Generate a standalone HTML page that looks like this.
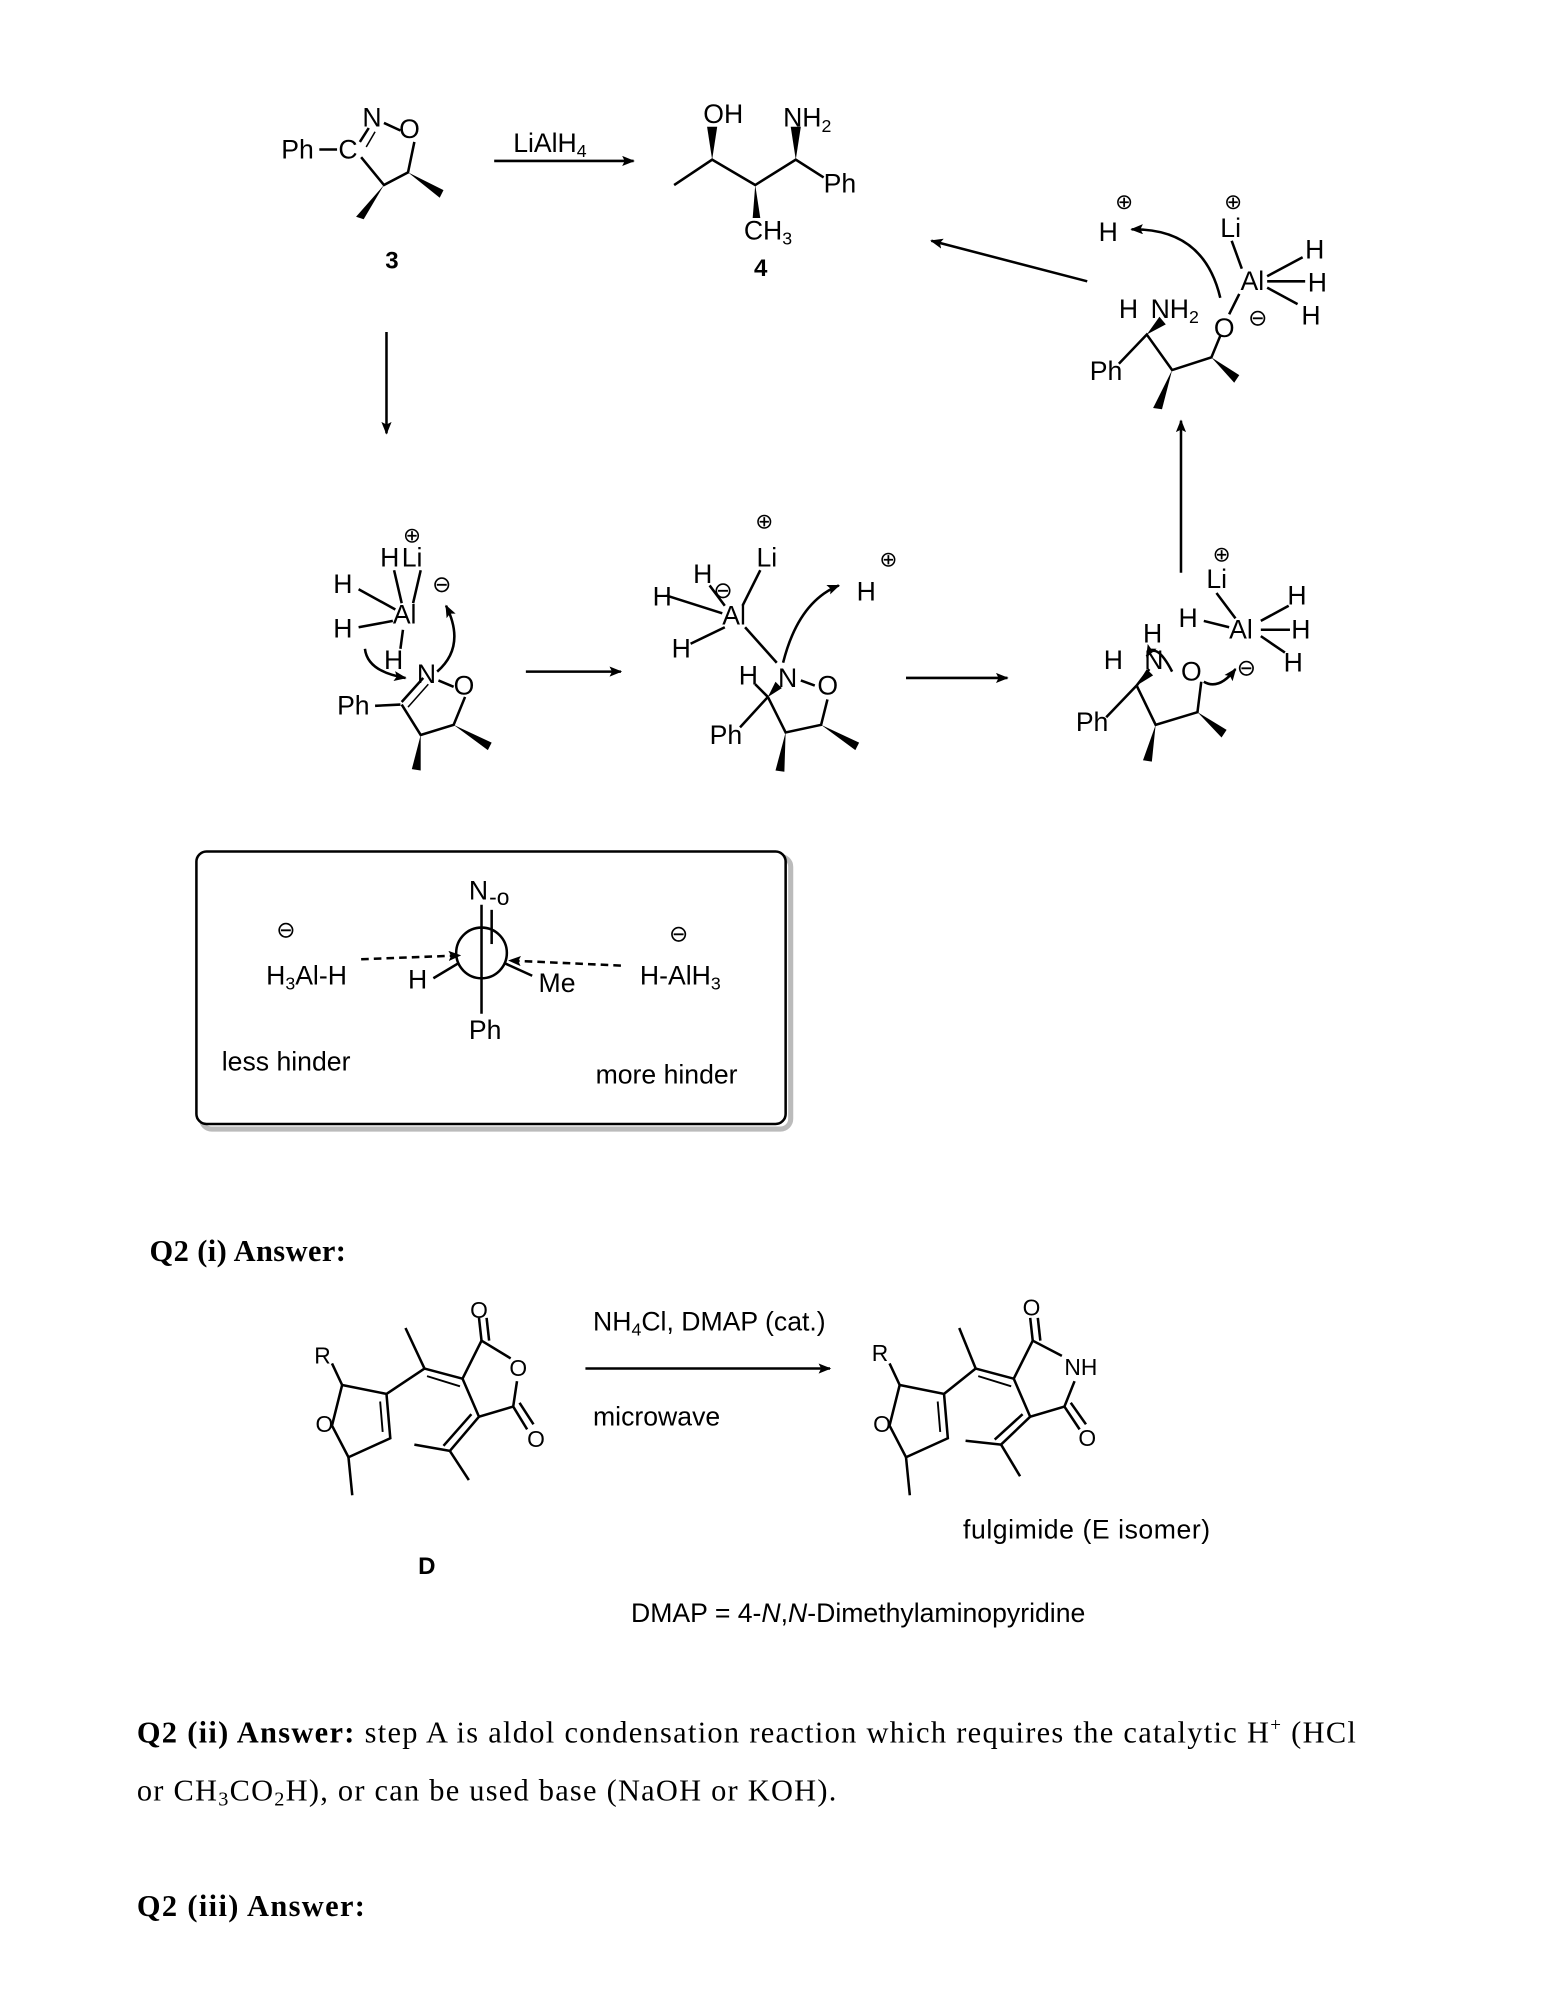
<!DOCTYPE html>
<html><head><meta charset="utf-8"><style>
html,body{margin:0;padding:0;background:#fff;}
svg{display:block;}
text{font-family:"Liberation Sans",Arial,sans-serif;fill:#000;}
.t{font-family:"Liberation Serif","Times New Roman",serif;font-size:24px;}
</style></head><body>
<svg width="1551" height="1992" viewBox="0 0 1224 1572" xmlns="http://www.w3.org/2000/svg">
<defs>
<marker id="ah" markerWidth="10" markerHeight="8" refX="9" refY="4" orient="auto-start-reverse" markerUnits="userSpaceOnUse"><path d="M0,0 L10,4 L0,8 L2,4 z" fill="#000"/></marker>
</defs>
<g stroke="#000" stroke-width="2" fill="none">
<!-- compound 3 -->
<line x1="252" y1="118" x2="266" y2="118"/>
<line x1="284" y1="112" x2="291" y2="101"/>
<line x1="289" y1="116" x2="296" y2="104" stroke-width="1.2"/>
<line x1="303" y1="97" x2="316" y2="103"/>
<polyline points="285,124 303,146 322,136 327,112"/>
<line x1="390" y1="127" x2="500" y2="127" marker-end="url(#ah)"/>
<!-- product 4 -->
<polyline points="532,146 562,126 596,146 628,126 650,140"/>
<line x1="858" y1="222" x2="735" y2="190" marker-end="url(#ah)"/>
<line x1="305" y1="262" x2="305" y2="342" marker-end="url(#ah)"/>
<line x1="932" y1="452" x2="932" y2="332" marker-end="url(#ah)"/>
<line x1="415" y1="530" x2="490" y2="530" marker-end="url(#ah)"/>
<line x1="715" y1="535" x2="795" y2="535" marker-end="url(#ah)"/>
<!-- top right complex -->
<line x1="972" y1="190" x2="980" y2="212"/>
<line x1="1000" y1="218" x2="1028" y2="203"/>
<line x1="1000" y1="222" x2="1030" y2="222"/>
<line x1="1000" y1="227" x2="1024" y2="240"/>
<line x1="978" y1="232" x2="970" y2="248"/>
<polyline points="883,287 905,264 925,292 956,282 963,265"/>
<path d="M963,235 Q950,180 893,181" marker-end="url(#ah)"/>
<!-- middle-left -->
<line x1="283" y1="465" x2="312" y2="481"/>
<line x1="311" y1="450" x2="317" y2="476"/>
<line x1="332" y1="450" x2="326" y2="476"/>
<line x1="283" y1="495" x2="310" y2="490"/>
<line x1="318" y1="497" x2="316" y2="512"/>
<line x1="296" y1="557" x2="316" y2="556"/>
<line x1="317" y1="554" x2="334" y2="535"/>
<line x1="322" y1="558" x2="338" y2="540" stroke-width="1.2"/>
<polyline points="317,556 332,580 358,572 367,550"/>
<line x1="346" y1="537" x2="358" y2="542"/>
<path d="M288,512 Q290,530 320,535" marker-end="url(#ah)"/>
<path d="M345,530 Q368,510 352,478" marker-end="url(#ah)"/>
<!-- middle -->
<line x1="600" y1="450" x2="586" y2="478"/>
<line x1="526" y1="470" x2="570" y2="484"/>
<line x1="560" y1="462" x2="572" y2="478"/>
<line x1="545" y1="508" x2="572" y2="495"/>
<line x1="588" y1="495" x2="613" y2="523"/>
<line x1="584" y1="574" x2="606" y2="550"/>
<line x1="596" y1="540" x2="606" y2="550"/>
<polyline points="606,550 620,578 648,572 653,552"/>
<line x1="632" y1="537" x2="643" y2="541"/>
<path d="M618,523 Q630,475 662,462" marker-end="url(#ah)"/>
<!-- right -->
<line x1="960" y1="468" x2="975" y2="488"/>
<line x1="950" y1="490" x2="970" y2="495"/>
<line x1="995" y1="490" x2="1017" y2="478"/>
<line x1="995" y1="497" x2="1018" y2="497"/>
<line x1="995" y1="502" x2="1014" y2="515"/>
<line x1="873" y1="566" x2="897" y2="541"/>
<polyline points="897,541 912,572 945,562 948,538"/>
<line x1="907" y1="528" x2="897" y2="541"/>
<path d="M925,530 Q912,505 905,518" marker-end="url(#ah)"/>
<path d="M950,538 Q962,545 975,528" marker-end="url(#ah)"/>
<!-- box -->
<rect x="159" y="676" width="465" height="215" rx="8" stroke="#bbb" stroke-width="4"/>
<rect x="155" y="672" width="465" height="215" rx="8" fill="#fff"/>
<circle cx="380" cy="752" r="20"/>
<line x1="380" y1="714" x2="380" y2="800"/>
<line x1="388" y1="718" x2="388" y2="745"/>
<line x1="342" y1="772" x2="362" y2="760"/>
<line x1="398" y1="760" x2="420" y2="770"/>
<line x1="285" y1="757" x2="363" y2="754" stroke-dasharray="6,4" marker-end="url(#ah)"/>
<line x1="490" y1="762" x2="402" y2="758" stroke-dasharray="6,4" marker-end="url(#ah)"/>
<!-- compound D -->
<line x1="262" y1="1076" x2="270" y2="1093"/>
<polygon points="270,1093 305,1100 308,1135 275,1150 262,1125"/>
<line x1="300" y1="1106" x2="302" y2="1130" stroke-width="1.5"/>
<line x1="275" y1="1150" x2="278" y2="1180"/>
<line x1="305" y1="1100" x2="335" y2="1080"/>
<line x1="335" y1="1080" x2="320" y2="1048"/>
<line x1="335" y1="1080" x2="365" y2="1088"/>
<line x1="337" y1="1086" x2="363" y2="1094" stroke-width="1.5"/>
<polyline points="365,1088 380,1058 403,1072"/>
<polyline points="365,1088 378,1118 405,1110 408,1090"/>
<line x1="380" y1="1058" x2="378" y2="1040"/><line x1="386" y1="1058" x2="384" y2="1040"/>
<line x1="405" y1="1110" x2="416" y2="1128"/><line x1="410" y1="1107" x2="421" y2="1124"/>
<line x1="378" y1="1118" x2="355" y2="1145"/><line x1="372" y1="1116" x2="350" y2="1141"/>
<line x1="355" y1="1145" x2="327" y2="1140"/><line x1="355" y1="1145" x2="370" y2="1168"/>
<line x1="462" y1="1080" x2="655" y2="1080" marker-end="url(#ah)"/>
<!-- product -->
<line x1="702" y1="1076" x2="710" y2="1093"/>
<polygon points="710,1093 745,1100 748,1135 715,1150 702,1125"/>
<line x1="740" y1="1106" x2="742" y2="1130" stroke-width="1.5"/>
<line x1="715" y1="1150" x2="718" y2="1180"/>
<line x1="745" y1="1100" x2="770" y2="1080"/>
<line x1="770" y1="1080" x2="757" y2="1048"/>
<line x1="770" y1="1080" x2="800" y2="1088"/>
<line x1="772" y1="1086" x2="798" y2="1094" stroke-width="1.5"/>
<polyline points="800,1088 815,1058 838,1070"/>
<polyline points="800,1088 813,1118 840,1110 848,1090"/>
<line x1="815" y1="1058" x2="813" y2="1040"/><line x1="821" y1="1058" x2="819" y2="1040"/>
<line x1="840" y1="1110" x2="852" y2="1128"/><line x1="845" y1="1107" x2="857" y2="1124"/>
<line x1="813" y1="1118" x2="790" y2="1140"/><line x1="807" y1="1116" x2="785" y2="1136"/>
<line x1="790" y1="1140" x2="762" y2="1137"/><line x1="790" y1="1140" x2="805" y2="1165"/>
</g>
<g fill="#000">
<polygon points="303,146 281,171 287,173"/>
<polygon points="322,136 350,150 347,156"/>
<polygon points="562,126 558,100 566,100"/>
<polygon points="628,126 624,100 632,100"/>
<polygon points="596,146 594,172 600,172"/>
<polygon points="905,264 915,250 920,256"/>
<polygon points="925,292 910,322 917,323"/>
<polygon points="956,282 978,296 974,302"/>
<polygon points="332,580 325,607 332,608"/>
<polygon points="358,572 388,586 385,592"/>
<polygon points="606,550 612,538 617,543"/>
<polygon points="620,578 612,608 619,609"/>
<polygon points="648,572 678,586 675,592"/>
<polygon points="897,541 905,528 910,533"/>
<polygon points="912,572 902,600 909,601"/>
<polygon points="945,562 968,576 964,582"/>
</g>
<g font-size="21">
<text x="222" y="125">Ph</text><text x="267" y="125">C</text><text x="286" y="100">N</text><text x="315" y="109">O</text>
<text x="304" y="212" font-weight="bold" font-size="19">3</text>
<text x="405" y="120">LiAlH<tspan font-size="14" dy="4">4</tspan></text>
<text x="555" y="97">OH</text><text x="618" y="100">NH<tspan font-size="14" dy="4">2</tspan></text>
<text x="650" y="152">Ph</text>
<text x="587" y="189">CH<tspan font-size="14" dy="4">3</tspan></text>
<text x="595" y="218" font-weight="bold" font-size="19">4</text>
<text x="880" y="165" font-size="17">⊕</text><text x="867" y="190">H</text>
<text x="966" y="165" font-size="17">⊕</text><text x="963" y="187">Li</text>
<text x="979" y="229">Al</text><text x="1030" y="204">H</text><text x="1032" y="230">H</text><text x="1027" y="256">H</text>
<text x="883" y="251">H</text><text x="908" y="251">NH<tspan font-size="14" dy="4">2</tspan></text>
<text x="958" y="266">O</text><text x="985" y="257" font-size="18">⊖</text>
<text x="860" y="300">Ph</text>
<text x="318" y="428" font-size="17">⊕</text>
<text x="300" y="447">H</text><text x="317" y="447">Li</text>
<text x="341" y="467" font-size="18">⊖</text>
<text x="263" y="468">H</text><text x="310" y="492">Al</text>
<text x="263" y="503">H</text><text x="303" y="528">H</text>
<text x="329" y="539">N</text><text x="358" y="548">O</text>
<text x="266" y="564">Ph</text>
<text x="596" y="417" font-size="17">⊕</text><text x="597" y="447">Li</text>
<text x="547" y="460">H</text><text x="563" y="472" font-size="18">⊖</text>
<text x="515" y="478">H</text><text x="570" y="493">Al</text>
<text x="530" y="519">H</text><text x="583" y="540">H</text>
<text x="614" y="542">N</text><text x="645" y="548">O</text>
<text x="560" y="587">Ph</text>
<text x="694" y="447" font-size="17">⊕</text><text x="676" y="474">H</text>
<text x="957" y="443" font-size="17">⊕</text><text x="952" y="464">Li</text>
<text x="1016" y="477">H</text><text x="930" y="495">H</text><text x="970" y="504">Al</text>
<text x="1019" y="504">H</text><text x="1013" y="530">H</text>
<text x="902" y="507">H</text><text x="871" y="528">H</text><text x="903" y="528">N</text>
<text x="932" y="537">O</text><text x="976" y="533" font-size="18">⊖</text>
<text x="849" y="577">Ph</text>
<text x="218" y="740" font-size="18">⊖</text>
<text x="210" y="777">H<tspan font-size="14" dy="4">3</tspan><tspan dy="-4">Al-H</tspan></text>
<text x="322" y="780">H</text>
<text x="370" y="710">N</text><text x="386" y="714" font-size="18">-o</text>
<text x="425" y="783">Me</text>
<text x="370" y="820">Ph</text>
<text x="528" y="743" font-size="18">⊖</text>
<text x="505" y="777">H-AlH<tspan font-size="14" dy="4">3</tspan></text>
<text x="175" y="845">less hinder</text>
<text x="470" y="855">more hinder</text>
<text x="248" y="1076" font-size="18">R</text><text x="249" y="1130" font-size="18">O</text>
<text x="371" y="1040" font-size="18">O</text><text x="402" y="1086" font-size="18">O</text><text x="416" y="1142" font-size="18">O</text>
<text x="330" y="1242" font-weight="bold" font-size="19">D</text>
<text x="468" y="1050">NH<tspan font-size="14" dy="4">4</tspan><tspan dy="-4">Cl, DMAP (cat.)</tspan></text>
<text x="468" y="1125">microwave</text>
<text x="688" y="1074" font-size="18">R</text><text x="689" y="1130" font-size="18">O</text>
<text x="807" y="1038" font-size="18">O</text><text x="840" y="1085" font-size="18">NH</text><text x="851" y="1141" font-size="18">O</text>
<text x="760" y="1214" textLength="195">fulgimide (E isomer)</text>
<text x="498" y="1280">DMAP = 4-<tspan font-style="italic">N</tspan>,<tspan font-style="italic">N</tspan>-Dimethylaminopyridine</text>
</g>
<text class="t" x="118" y="995" font-weight="bold" textLength="155">Q2 (i) Answer:</text>
<text class="t" x="108" y="1375" textLength="962"><tspan font-weight="bold">Q2 (ii) Answer:</tspan>  step A is aldol condensation reaction which requires the catalytic H<tspan font-size="15" dy="-9">+</tspan><tspan dy="9"> (HCl</tspan></text>
<text class="t" x="108" y="1421" textLength="552">or CH<tspan font-size="16" dy="4">3</tspan><tspan dy="-4">CO</tspan><tspan font-size="16" dy="4">2</tspan><tspan dy="-4">H), or can be used base (NaOH or KOH).</tspan></text>
<text class="t" x="108" y="1512" font-weight="bold" textLength="180">Q2 (iii) Answer:</text>
</svg>
</body></html>
